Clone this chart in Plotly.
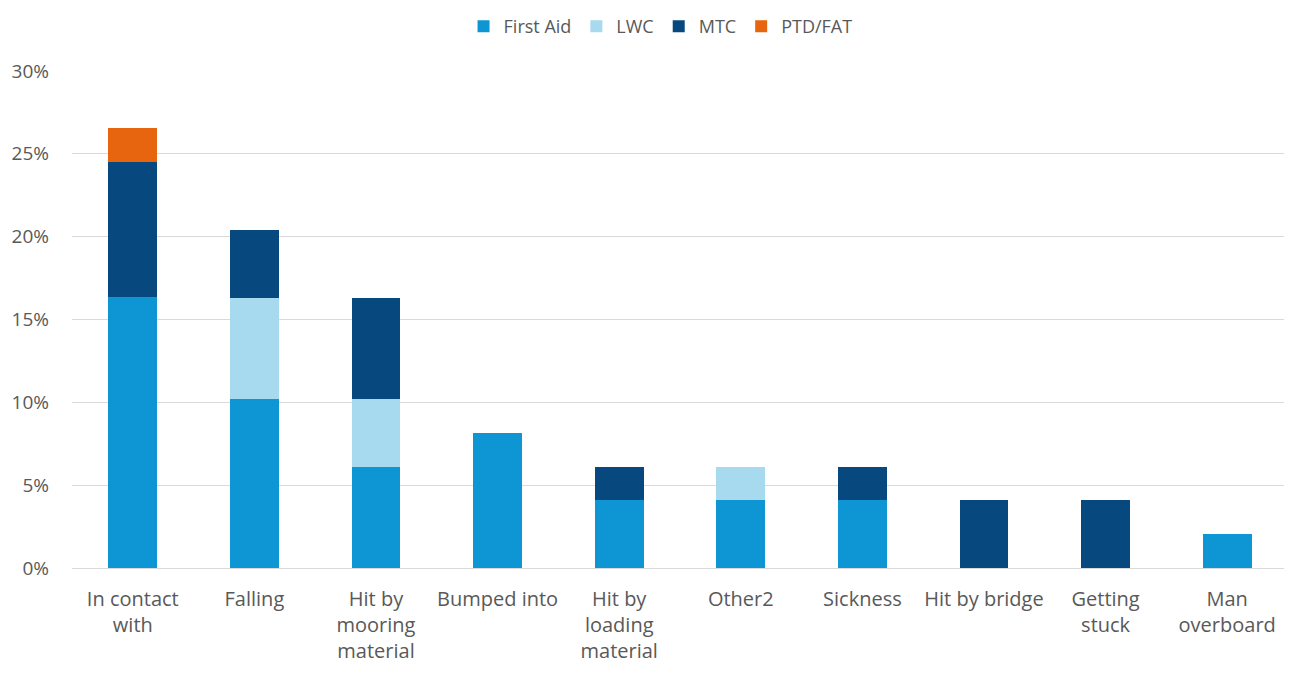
import plotly.graph_objects as go

categories = ["In contact<br>with", "Falling", "Hit by<br>mooring<br>material", "Bumped into",
              "Hit by<br>loading<br>material", "Other2", "Sickness", "Hit by bridge",
              "Getting<br>stuck", "Man<br>overboard"]
first_aid = [0.1633, 0.1020, 0.0612, 0.0816, 0.0408, 0.0408, 0.0408, 0.0, 0.0, 0.0204]
lwc = [0.0, 0.0612, 0.0408, 0.0, 0.0, 0.0204, 0.0, 0.0, 0.0, 0.0]
mtc = [0.0816, 0.0408, 0.0612, 0.0, 0.0204, 0.0, 0.0204, 0.0408, 0.0408, 0.0]
ptd_fat = [0.0204, 0.0, 0.0, 0.0, 0.0, 0.0, 0.0, 0.0, 0.0, 0.0]
tick_vals = [0, 0.05, 0.10, 0.15, 0.20, 0.25, 0.30]
tick_text = ["0%", "5%", "10%", "15%", "20%", "25%", "30%"]

series = [("First Aid", first_aid, "#0E96D4"), ("LWC", lwc, "#A7D9EF"),
          ("MTC", mtc, "#07497E"), ("PTD/FAT", ptd_fat, "#E8650F")]

fig = go.Figure()
for name, vals, color in series:
    fig.add_trace(go.Bar(x=categories, y=vals, name=name, marker_color=color,
                         marker_line_width=0, width=0.4))

fig.update_layout(
    barmode="stack",
    width=1292, height=674,
    paper_bgcolor="white", plot_bgcolor="white",
    margin=dict(l=64, r=12, t=63, b=114, autoexpand=False),
    font=dict(family="Open Sans, Liberation Sans, sans-serif", color="#595959", size=20),
    legend=dict(orientation="h", x=0.484, xanchor="center", y=1.1268, yanchor="top",
                font=dict(size=18, color="#595959"), traceorder="normal",
                itemwidth=30),
    showlegend=True,
)
fig.update_yaxes(range=[0, 0.30], tickvals=tick_vals, ticktext=tick_text,
                 showgrid=True, gridcolor="#D9D9D9", gridwidth=1,
                 zeroline=True, zerolinecolor="#D9D9D9", zerolinewidth=1,
                 ticklabelstandoff=22, tickfont=dict(size=19), automargin=False)
fig.update_xaxes(showgrid=False, showline=True, linecolor="#D9D9D9", linewidth=1,
                 ticklabelstandoff=13, tickfont=dict(size=20), tickangle=0,
                 automargin=False)

fig.write_html("out.html")
